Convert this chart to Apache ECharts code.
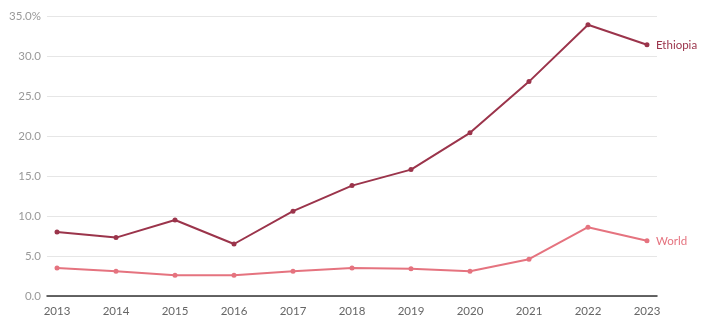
<!DOCTYPE html>
<html><head><meta charset="utf-8">
<script src="https://cdn.jsdelivr.net/npm/echarts@6/dist/echarts.min.js"></script>
<style>html,body{margin:0;padding:0;background:#fff}#c{width:708px;height:325px}</style>
</head><body><div id="c"></div>
<script>
const years = [2013,2014,2015,2016,2017,2018,2019,2020,2021,2022,2023];
const ethiopia = [8.0,7.3,9.5,6.5,10.6,13.8,15.8,20.4,26.8,33.9,31.4];
const world = [3.5,3.1,2.6,2.6,3.1,3.5,3.4,3.1,4.6,8.6,6.9];
const seriesNames = ['Ethiopia','World'];
const yTicks = [0,5,10,15,20,25,30,35];

const font = 'Lato, "Open Sans", sans-serif';
const colors = ['#9b344b','#e5737f'];
const chart = echarts.init(document.getElementById('c'), null, {renderer:'canvas'});
function mk(name, vals, color){
  return {
    name, type:'line', data: years.map((y,i)=>[y, vals[i]]),
    symbol:'circle', symbolSize:5, lineStyle:{width:2,color}, itemStyle:{color},
    endLabel:{show:true, formatter:name, color, fontFamily:font, fontSize:11.5, distance:9},
    emphasis:{disabled:true}, animation:false
  };
}
chart.setOption({
  animation:false,
  grid:{left:47,right:51,top:16,bottom:29},
  xAxis:{type:'value', min:2012.83, max:2023.17,
    axisLine:{show:true,lineStyle:{color:'#333',width:1.5}},
    axisTick:{show:false}, splitLine:{show:false},
    axisLabel:{customValues:years, color:'#666', fontFamily:font, fontSize:11.5, margin:9, formatter:v=>String(v)}},
  yAxis:{type:'value', min:0, max:35, interval:5,
    axisLine:{show:false}, axisTick:{show:false},
    splitLine:{lineStyle:{color:'#e6e6e6'}},
    axisLabel:{color:'#999', fontFamily:font, fontSize:11.5, margin:6,
      formatter:v=> v===35 ? '35.0%' : v.toFixed(1)}},
  series:[mk(seriesNames[0], ethiopia, colors[0]), mk(seriesNames[1], world, colors[1])]
});
</script></body></html>
